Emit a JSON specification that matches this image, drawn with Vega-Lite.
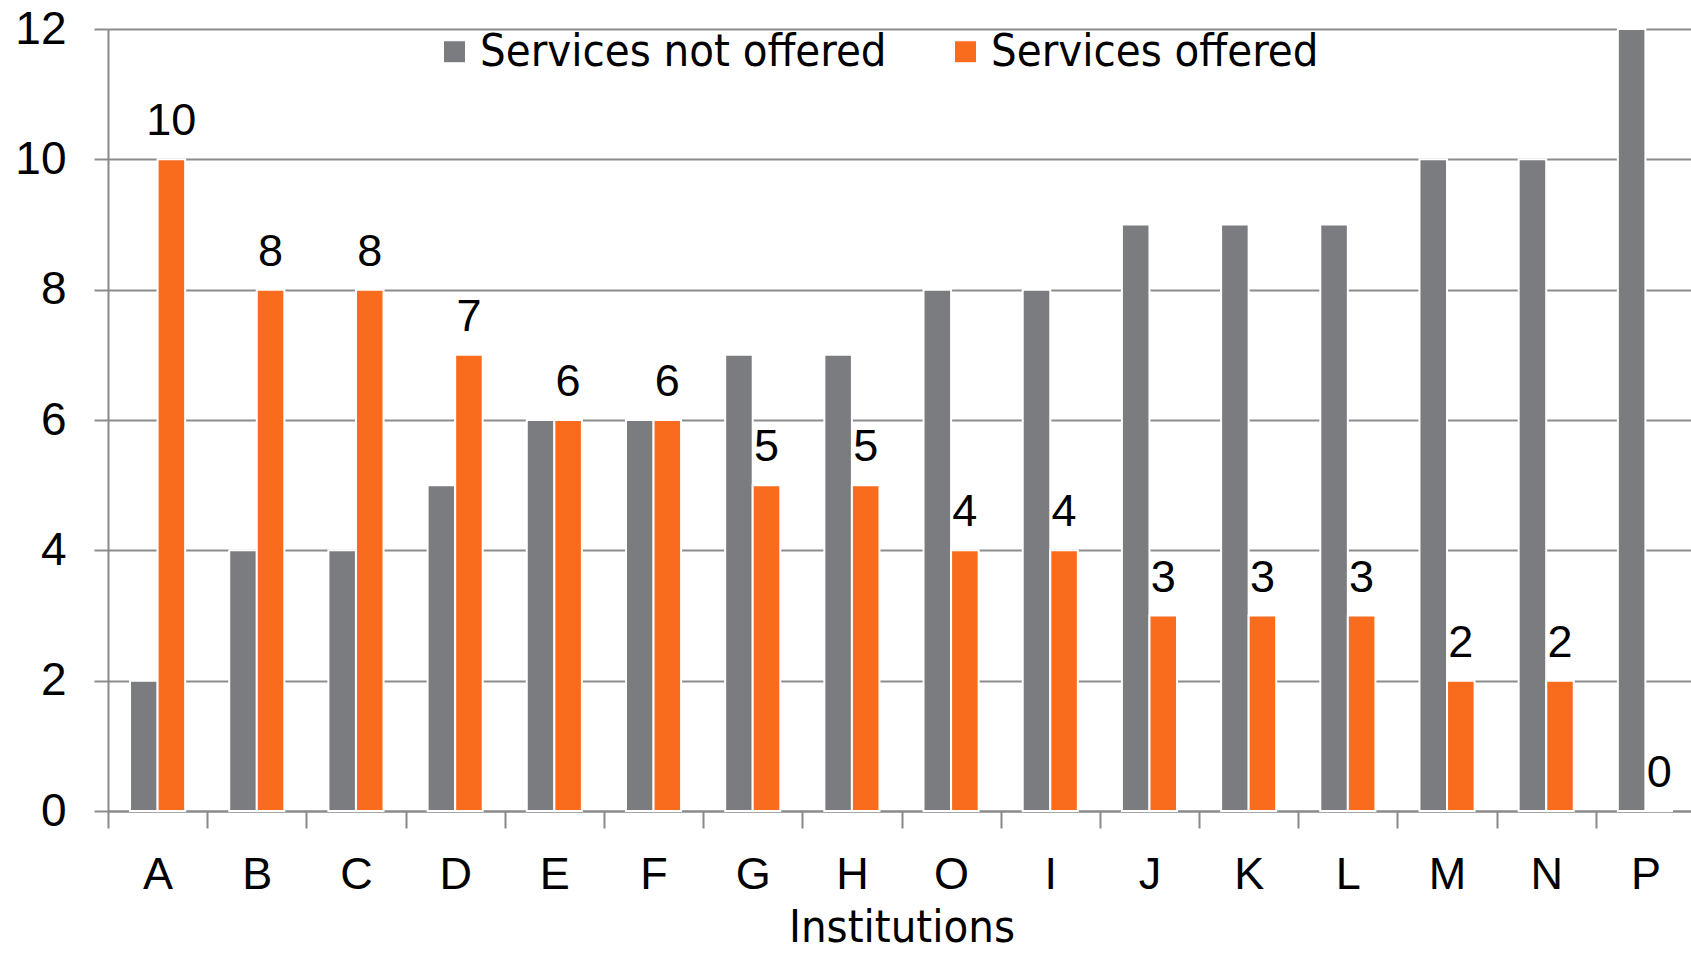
{
  "$schema": "https://vega.github.io/schema/vega-lite/v6.json",
  "width": 1587,
  "height": 782,
  "autosize": {"type": "none"},
  "padding": {"left": 108, "top": 29, "right": 0, "bottom": 142},
  "background": "white",
  "config": {
    "view": {"stroke": null},
    "font": "Liberation Sans"
  },
  "data": {
    "values": [
      {"inst": "A", "series": "Services not offered", "value": 2},
      {"inst": "A", "series": "Services offered", "value": 10},
      {"inst": "B", "series": "Services not offered", "value": 4},
      {"inst": "B", "series": "Services offered", "value": 8},
      {"inst": "C", "series": "Services not offered", "value": 4},
      {"inst": "C", "series": "Services offered", "value": 8},
      {"inst": "D", "series": "Services not offered", "value": 5},
      {"inst": "D", "series": "Services offered", "value": 7},
      {"inst": "E", "series": "Services not offered", "value": 6},
      {"inst": "E", "series": "Services offered", "value": 6},
      {"inst": "F", "series": "Services not offered", "value": 6},
      {"inst": "F", "series": "Services offered", "value": 6},
      {"inst": "G", "series": "Services not offered", "value": 7},
      {"inst": "G", "series": "Services offered", "value": 5},
      {"inst": "H", "series": "Services not offered", "value": 7},
      {"inst": "H", "series": "Services offered", "value": 5},
      {"inst": "O", "series": "Services not offered", "value": 8},
      {"inst": "O", "series": "Services offered", "value": 4},
      {"inst": "I", "series": "Services not offered", "value": 8},
      {"inst": "I", "series": "Services offered", "value": 4},
      {"inst": "J", "series": "Services not offered", "value": 9},
      {"inst": "J", "series": "Services offered", "value": 3},
      {"inst": "K", "series": "Services not offered", "value": 9},
      {"inst": "K", "series": "Services offered", "value": 3},
      {"inst": "L", "series": "Services not offered", "value": 9},
      {"inst": "L", "series": "Services offered", "value": 3},
      {"inst": "M", "series": "Services not offered", "value": 10},
      {"inst": "M", "series": "Services offered", "value": 2},
      {"inst": "N", "series": "Services not offered", "value": 10},
      {"inst": "N", "series": "Services offered", "value": 2},
      {"inst": "P", "series": "Services not offered", "value": 12},
      {"inst": "P", "series": "Services offered", "value": 0}
    ]
  },
  "encoding": {
    "x": {
      "field": "inst",
      "type": "nominal",
      "sort": ["A","B","C","D","E","F","G","H","O","I","J","K","L","M","N","P"],
      "scale": {"paddingInner": 0, "paddingOuter": 0},
      "axis": {
        "title": "Institutions",
        "titleFont": "DejaVu Sans Condensed, Liberation Sans",
        "titleFontSize": 45,
        "titleFontWeight": "normal",
        "titleColor": "black",
        "titlePadding": 8,
        "labelAngle": 0,
        "labelFontSize": 45,
        "labelColor": "black",
        "labelPadding": 24,
        "domainColor": "#898989",
        "domainWidth": 2,
        "tickColor": "#898989",
        "tickWidth": 2,
        "tickSize": 17,
        "tickBand": "extent"
      }
    },
    "xOffset": {
      "field": "series",
      "type": "nominal",
      "sort": ["Services not offered", "Services offered"],
      "scale": {"paddingInner": 0, "paddingOuter": 0.8}
    },
    "y": {
      "field": "value",
      "type": "quantitative",
      "scale": {"domain": [0, 12], "nice": false},
      "axis": {
        "title": null,
        "values": [0, 2, 4, 6, 8, 10, 12],
        "labelFontSize": 46,
        "labelColor": "black",
        "labelPadding": 28,
        "domainColor": "#898989",
        "domainWidth": 2,
        "gridColor": "#8c8c8c",
        "gridWidth": 2,
        "tickColor": "#8c8c8c",
        "tickWidth": 2,
        "tickSize": 14
      }
    }
  },
  "layer": [
    {
      "mark": {"type": "bar", "stroke": "white", "strokeWidth": 2},
      "encoding": {
        "color": {
          "field": "series",
          "type": "nominal",
          "scale": {"domain": ["Services not offered", "Services offered"], "range": ["#7b7c80", "#f96c1e"]},
          "legend": {
            "title": null,
            "orient": "none",
            "legendX": 324,
            "legendY": 0,
            "direction": "horizontal",
            "symbolType": "square",
            "symbolSize": 484,
            "symbolStrokeColor": "white",
            "symbolStrokeWidth": 1,
            "labelFont": "DejaVu Sans Condensed, Liberation Sans",
            "labelFontSize": 45,
            "labelColor": "black",
            "labelOffset": 3,
            "columnPadding": 56,
            "labelLimit": 600
          }
        }
      }
    },
    {
      "transform": [{"filter": "datum.series === 'Services offered'"}],
      "mark": {"type": "text", "fontSize": 45, "color": "black", "baseline": "alphabetic", "dy": -24},
      "encoding": {
        "text": {"field": "value", "type": "quantitative"}
      }
    }
  ]
}
